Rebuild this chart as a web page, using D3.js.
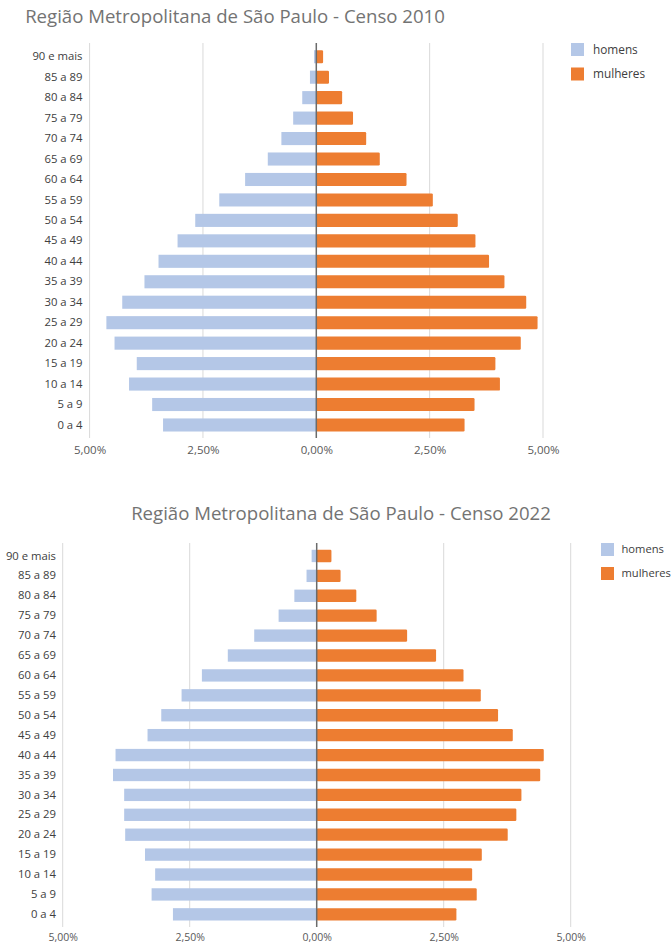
<!DOCTYPE html>
<html><head><meta charset="utf-8">
<script src="https://cdn.jsdelivr.net/npm/d3@7"></script>
<style>body{margin:0;background:#fff}svg{display:block}text{font-family:"Open Sans",sans-serif}</style>
</head><body><svg id="c" width="672" height="946"></svg>
<script>
const ageGroups = ["90 e mais","85 a 89","80 a 84","75 a 79","70 a 74","65 a 69","60 a 64","55 a 59","50 a 54","45 a 49","40 a 44","35 a 39","30 a 34","25 a 29","20 a 24","15 a 19","10 a 14","5 a 9","0 a 4"];
const men2010   = [0.05,0.14,0.31,0.51,0.77,1.07,1.57,2.14,2.67,3.06,3.48,3.79,4.28,4.63,4.45,3.96,4.13,3.62,3.38];
const women2010 = [0.15,0.28,0.57,0.81,1.10,1.40,1.99,2.57,3.12,3.51,3.81,4.15,4.63,4.88,4.51,3.95,4.05,3.49,3.27];
const men2022   = [0.10,0.20,0.44,0.75,1.23,1.75,2.26,2.66,3.06,3.33,3.96,4.01,3.79,3.79,3.77,3.38,3.18,3.25,2.83];
const women2022 = [0.29,0.47,0.78,1.18,1.78,2.35,2.89,3.23,3.57,3.86,4.47,4.40,4.03,3.93,3.76,3.25,3.06,3.15,2.75];
const xTicks = [-5,-2.5,0,2.5,5];
const seriesNames = ["homens","mulheres"];
const titles = ["Região Metropolitana de São Paulo - Censo 2010","Região Metropolitana de São Paulo - Censo 2022"];

const svg = d3.select("#c");
const fmt = v => d3.format(".2f")(Math.abs(v)).replace(".", ",") + "%";

function drawChart(o){
  const g = svg.append("g");
  const x = d3.scaleLinear().domain([-5,5]).range([o.x0,o.x1]);
  const y = d3.scaleBand().domain(ageGroups).range([o.y0,o.y1]).paddingInner(o.pad).paddingOuter(o.pad/2);
  g.append("text").attr("x",o.tx).attr("y",o.ty).attr("text-anchor","middle")
    .attr("font-size",18.6).attr("fill","#737373").text(o.title);
  g.selectAll("line.grid").data(xTicks.filter(d=>d!==0)).join("line")
    .attr("x1",d=>x(d)).attr("x2",d=>x(d)).attr("y1",o.gy0).attr("y2",o.gy1)
    .attr("stroke","#d9d9d9").attr("stroke-width",1);
  g.selectAll("rect.m").data(o.men).join("rect")
    .attr("x",d=>x(-d)).attr("width",d=>x(0)-x(-d))
    .attr("y",(d,i)=>y(ageGroups[i])).attr("height",y.bandwidth())
    .attr("fill","#b4c7e7");
  g.selectAll("rect.w").data(o.women).join("rect")
    .attr("x",x(0)).attr("width",d=>x(d)-x(0))
    .attr("y",(d,i)=>y(ageGroups[i])).attr("height",y.bandwidth())
    .attr("rx",1.2).attr("fill","#ed7d31");
  g.append("line").attr("x1",x(0)).attr("x2",x(0)).attr("y1",o.gy0).attr("y2",o.gy1)
    .attr("stroke","#6b6b6b").attr("stroke-width",1.5);
  const ya = d3.axisLeft(y).tickSize(0).tickPadding(0);
  const ag = g.append("g").attr("transform",`translate(${o.lx},0)`).call(ya);
  ag.select(".domain").remove();
  ag.selectAll("text").attr("font-size",11.3).attr("fill","#404040").attr("font-family","Open Sans, sans-serif");
  const xa = d3.axisBottom(x).tickValues(xTicks).tickFormat(fmt).tickSize(0).tickPadding(0);
  const xg = g.append("g").attr("transform",`translate(0,${o.xly})`).call(xa);
  xg.select(".domain").remove();
  xg.selectAll("text").attr("font-size",o.xfs).attr("fill","#595959").attr("font-family","Open Sans, sans-serif");
  const cols = ["#b4c7e7","#ed7d31"];
  seriesNames.forEach((n,i)=>{
    g.append("rect").attr("x",o.legx).attr("y",o.legy+i*o.legdy).attr("width",13).attr("height",13).attr("fill",cols[i]);
    g.append("text").attr("x",o.legx+o.legtx).attr("y",o.legy+i*o.legdy+6.5).attr("dy","0.35em")
      .attr("font-size",o.legfs).attr("fill","#404040").text(n);
  });
}

drawChart({title:titles[0], men:men2010, women:women2010, tx:235, ty:23,
  x0:89.6, x1:543, y0:46.5, y1:435.2, pad:0.36, gy0:43, gy1:438, lx:82.5, xly:446, xfs:11.5,
  legx:571, legy:43, legdy:24.5, legtx:22, legfs:11.8});
drawChart({title:titles[1], men:men2022, women:women2022, tx:341, ty:520,
  x0:62.7, x1:570.7, y0:546, y1:924.3, pad:0.38, gy0:543, gy1:927, lx:56, xly:934, xfs:10.5,
  legx:601, legy:543, legdy:24, legtx:20.5, legfs:11.2});
</script></body></html>
